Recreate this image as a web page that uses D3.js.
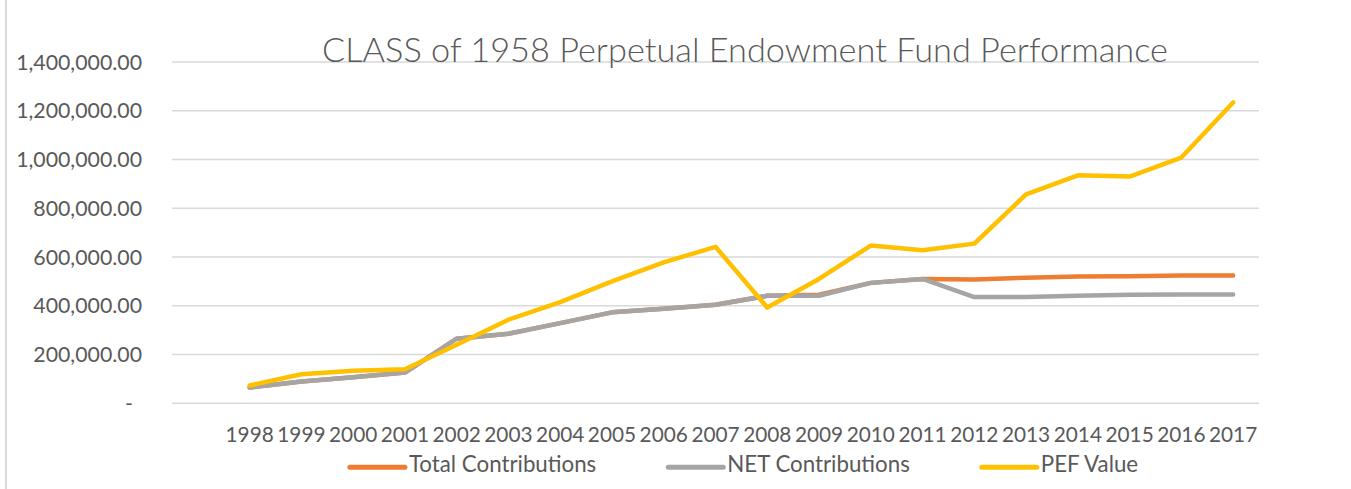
<!DOCTYPE html>
<html>
<head>
<meta charset="utf-8">
<script src="https://cdn.jsdelivr.net/npm/d3@7"></script>
<style>
  body { margin: 0; background: #fff; }
  svg { display: block; }
  text { font-family: Lato, "Open Sans", sans-serif; fill: #595959; }
</style>
</head>
<body>
<svg id="chart"></svg>
<script>
// values
const years = ["1998","1999","2000","2001","2002","2003","2004","2005","2006","2007",
               "2008","2009","2010","2011","2012","2013","2014","2015","2016","2017"];
const totalContributions = [65000, 89000, 107000, 126000, 265000, 285000, 329000, 373000, 388000, 404000,
                            441000, 445000, 494000, 510000, 508000, 515000, 520000, 521000, 524000, 524000];
const netContributions   = [65000, 89000, 107000, 126000, 265000, 285000, 329000, 373000, 388000, 404000,
                            441000, 441000, 494000, 510000, 436000, 436000, 441000, 445000, 446000, 446000];
const pefValue           = [73000, 119000, 134000, 140000, 240000, 343000, 415000, 500000, 578000, 642000,
                            393000, 510000, 647000, 628000, 655000, 857000, 935000, 930000, 1008000, 1234000];
const yTicks = [0, 200000, 400000, 600000, 800000, 1000000, 1200000, 1400000];

const series = [
    { name: "Total Contributions", values: totalContributions, color: "#ED7D31" },
    { name: "NET Contributions",   values: netContributions,   color: "#A5A5A5" },
    { name: "PEF Value",           values: pefValue,           color: "#FFC000" }
];

const width = 1351, height = 489;
const plot = { left: 172, right: 1259, top: 62, bottom: 403.3 };

const svg = d3.select("#chart").attr("width", width).attr("height", height);

// outer frame edge on the left
svg.append("line")
    .attr("x1", 6).attr("x2", 6).attr("y1", 0).attr("y2", height)
    .attr("stroke", "#d9d9d9").attr("stroke-width", 2);

// first slot is an empty category, as in the source sheet
const x = d3.scaleBand()
    .domain([""].concat(years))
    .range([plot.left, plot.right]);

const y = d3.scaleLinear()
    .domain([0, 1400000])
    .range([plot.bottom, plot.top]);

const fmt = d3.format(",.2f");

// gridlines
svg.append("g")
    .selectAll("line")
    .data(yTicks)
    .join("line")
    .attr("x1", plot.left).attr("x2", plot.right)
    .attr("y1", d => y(d)).attr("y2", d => y(d))
    .attr("stroke", "#d9d9d9").attr("stroke-width", 1.5);

// y labels
svg.append("g")
    .selectAll("text")
    .data(yTicks)
    .join("text")
    .attr("x", d => d === 0 ? 133 : 142)
    .attr("y", d => y(d))
    .attr("dy", "0.36em")
    .attr("text-anchor", "end")
    .style("font-size", "21.3px")
    .text(d => d === 0 ? "-" : fmt(d));

// x labels
svg.append("g")
    .selectAll("text")
    .data(years)
    .join("text")
    .attr("x", d => x(d) + x.bandwidth() / 2)
    .attr("y", 441.7)
    .attr("text-anchor", "middle")
    .style("font-size", "20.8px")
    .text(d => d);

// lines
const line = d3.line()
    .x((d, i) => x(years[i]) + x.bandwidth() / 2)
    .y(d => y(d));

svg.append("g")
    .selectAll("path")
    .data(series)
    .join("path")
    .attr("d", d => line(d.values))
    .attr("fill", "none")
    .attr("stroke", d => d.color)
    .attr("stroke-width", 4.5)
    .attr("stroke-linecap", "round")
    .attr("stroke-linejoin", "round");

// title
svg.append("text")
    .attr("x", 745)
    .attr("y", 62)
    .attr("text-anchor", "middle")
    .style("font-size", "34.3px")
    .style("font-weight", 300)
    .text("CLASS of 1958 Perpetual Endowment Fund Performance");

// legend
const legend = svg.append("g");
const items = legend.selectAll("g")
    .data(series)
    .join("g");

items.append("line")
    .attr("x1", 0).attr("x2", 55)
    .attr("y1", 467.3).attr("y2", 467.3)
    .attr("stroke", d => d.color)
    .attr("stroke-width", 5)
    .attr("stroke-linecap", "round");

items.append("text")
    .attr("x", 59)
    .attr("y", 471.7)
    .style("font-size", "22.3px")
    .text(d => d.name);

const widths = [];
items.each(function () {
    const w = 59 + d3.select(this).select("text").node().getComputedTextLength();
    widths.push(w);
});
const gap = 72;
const total = d3.sum(widths) + gap * (widths.length - 1);
let start = 744 - total / 2;
items.attr("transform", (d, i) => {
    const tx = start;
    start += widths[i] + gap;
    return `translate(${tx},0)`;
});
</script>
</body>
</html>
